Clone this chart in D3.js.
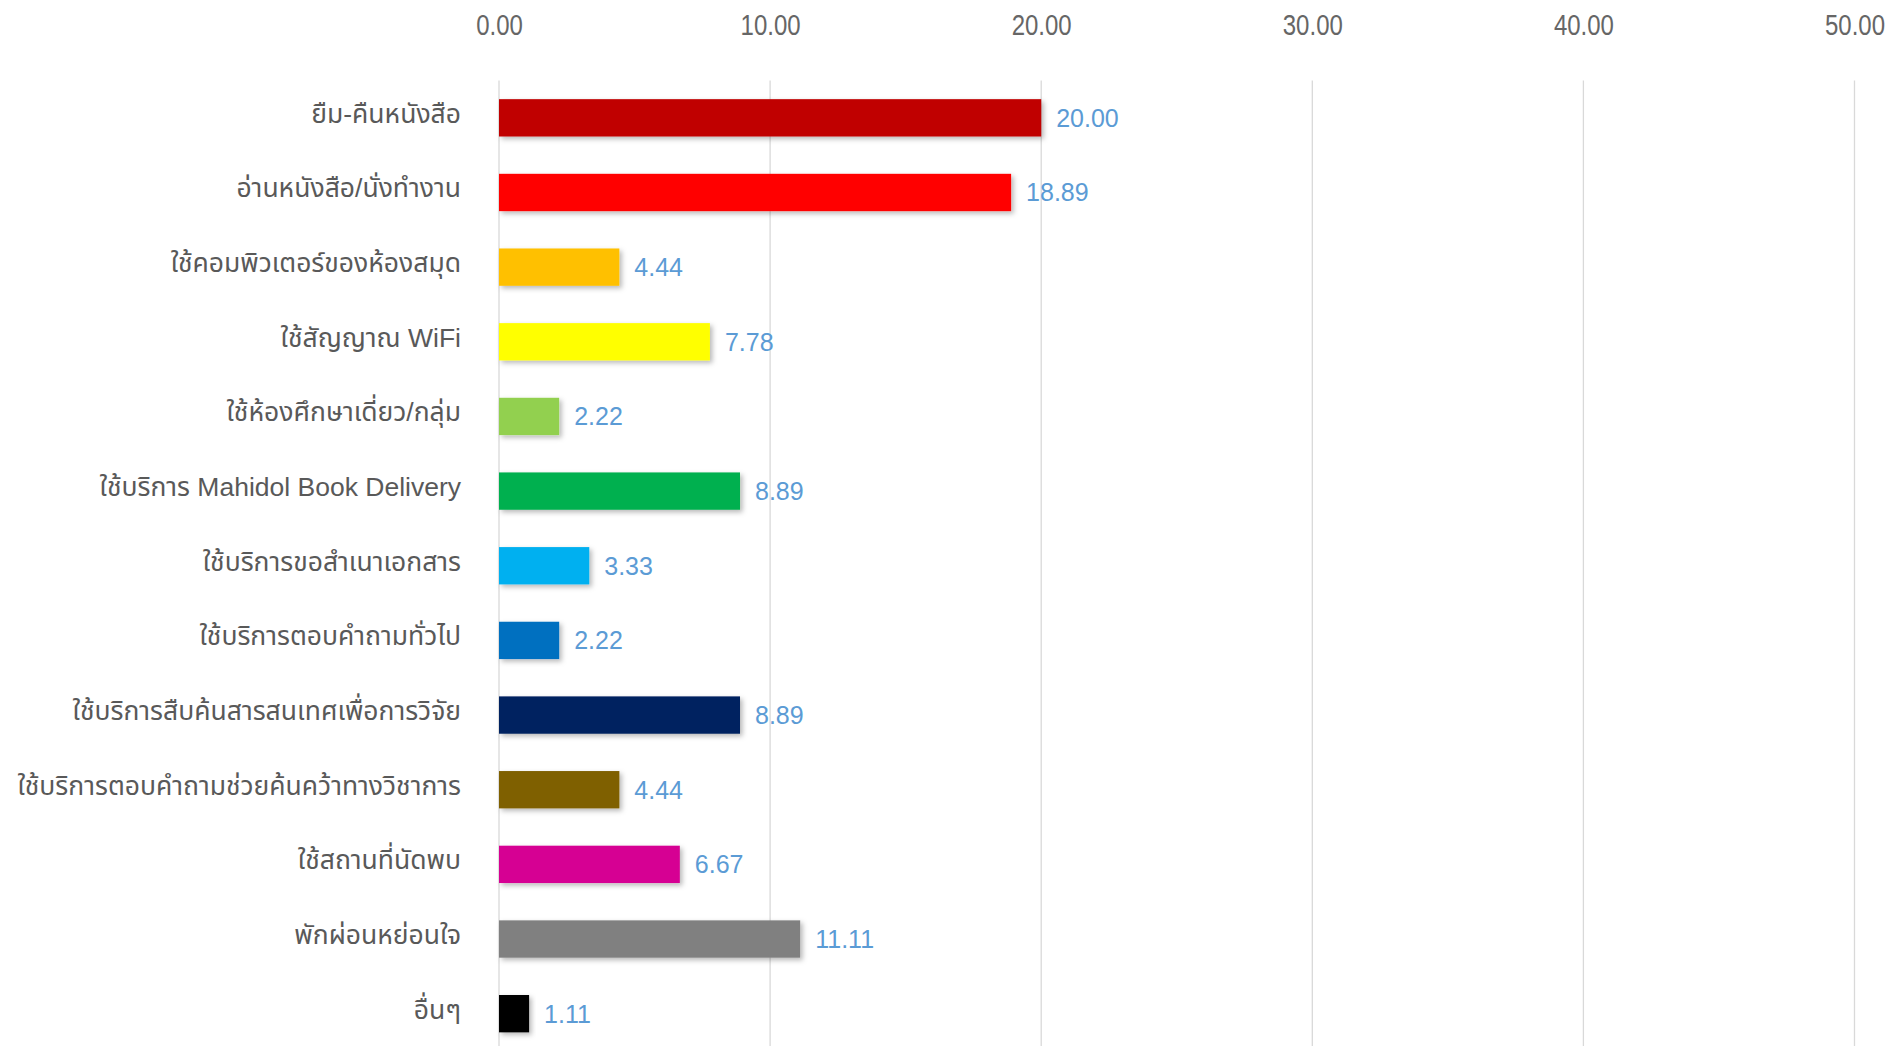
<!DOCTYPE html>
<html>
<head>
<meta charset="utf-8">
<script src="https://cdn.jsdelivr.net/npm/d3@7"></script>
<style>
html,body{margin:0;padding:0;background:#fff;overflow:hidden;}
svg{display:block;}
</style>
</head>
<body>
<script>
const categories = [
  "ยืม-คืนหนังสือ",
  "อ่านหนังสือ/นั่งทำงาน",
  "ใช้คอมพิวเตอร์ของห้องสมุด",
  "ใช้สัญญาณ WiFi",
  "ใช้ห้องศึกษาเดี่ยว/กลุ่ม",
  "ใช้บริการ Mahidol Book Delivery",
  "ใช้บริการขอสำเนาเอกสาร",
  "ใช้บริการตอบคำถามทั่วไป",
  "ใช้บริการสืบค้นสารสนเทศเพื่อการวิจัย",
  "ใช้บริการตอบคำถามช่วยค้นคว้าทางวิชาการ",
  "ใช้สถานที่นัดพบ",
  "พักผ่อนหย่อนใจ",
  "อื่นๆ"
];
const values = [20.00, 18.89, 4.44, 7.78, 2.22, 8.89, 3.33, 2.22, 8.89, 4.44, 6.67, 11.11, 1.11];
const colors = ["#C00000","#FF0000","#FFC000","#FFFF00","#92D050","#00B050","#00B0F0","#0070C0","#002060","#7F6000","#D60093","#808080","#000000"];
const ticks = [0, 10, 20, 30, 40, 50];

const W = 1890, H = 1046;
const svg = d3.select("body").append("svg").attr("width", W).attr("height", H);

const defs = svg.append("defs");
const f = defs.append("filter").attr("id","shadow").attr("x","-10%").attr("y","-30%").attr("width","130%").attr("height","180%");
f.append("feDropShadow").attr("dx",2.5).attr("dy",2.5).attr("stdDeviation",2.5).attr("flood-color","#000").attr("flood-opacity",0.28);

const x = d3.scaleLinear().domain([0, 50]).range([499, 1854.5]);
const y = d3.scaleBand().domain(categories).range([80.5, 1051]).paddingInner(0.5).paddingOuter(0.25);

const tickFont = "'Liberation Sans',Arial,sans-serif";
const labFont = "'Liberation Sans',Arial,'Noto Sans Thai','Noto Sans',sans-serif";

// gridlines
svg.append("g").selectAll("line").data(ticks).join("line")
  .attr("x1", d => x(d)).attr("x2", d => x(d))
  .attr("y1", 80.5).attr("y2", H)
  .attr("stroke", "#d9d9d9").attr("stroke-width", 1.3);

// top axis labels
const axis = d3.axisTop(x).tickValues(ticks).tickFormat(d3.format(".2f")).tickSize(0).tickPadding(0);
const ag = svg.append("g").attr("transform", "translate(0,35)").call(axis);
ag.select(".domain").remove();
ag.selectAll("text")
  .attr("font-family", tickFont).attr("font-size", 30).attr("fill", "#666666")
  .attr("dy", 0).attr("transform", "scale(0.8,1)");

// bars
svg.append("g").selectAll("rect").data(values).join("rect")
  .attr("x", x(0))
  .attr("y", (d, i) => y(categories[i]))
  .attr("width", d => x(d) - x(0))
  .attr("height", y.bandwidth())
  .attr("fill", (d, i) => colors[i])
  .attr("filter", "url(#shadow)");

// value labels
svg.append("g").selectAll("text").data(values).join("text")
  .attr("x", d => x(d) + 15)
  .attr("y", (d, i) => y(categories[i]) + y.bandwidth() / 2 + 9)
  .attr("font-family", labFont).attr("font-size", 25).attr("fill", "#5B9BD5")
  .text(d => d3.format(".2f")(d));

// category labels
svg.append("g").selectAll("text").data(categories).join("text")
  .attr("x", 461)
  .attr("y", d => y(d) + y.bandwidth() / 2 + 5)
  .attr("text-anchor", "end")
  .attr("font-family", labFont).attr("font-size", 26.5).attr("fill", "#595959")
  .text(d => d);
</script>
</body>
</html>
